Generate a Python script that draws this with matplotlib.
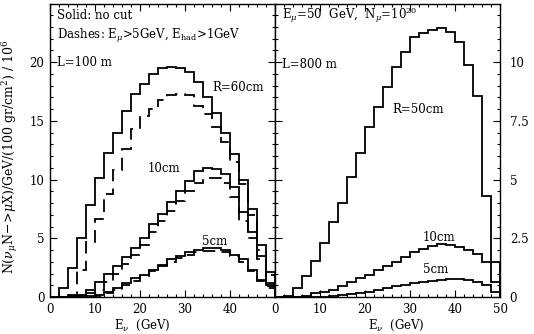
import matplotlib.pyplot as plt
import numpy as np
from matplotlib.ticker import MultipleLocator

plt.rcParams['font.family'] = ['DejaVu Serif']
plt.rcParams['mathtext.fontset'] = 'dejavuserif'

# bin edges, 2 GeV wide
edges = np.arange(0, 52, 2)

# L=100 m panel, solid = no cut, dashed = with cuts
l100_r60 = [0, 0.75, 2.5, 5.0, 7.8, 10.1, 12.3, 14.0, 15.8, 17.3, 18.1, 19.0, 19.5,
            19.6, 19.5, 19.2, 18.3, 17.0, 15.7, 14.0, 12.2, 10.0, 7.5, 4.4, 1.2]
l100_r60_cut = [0, 0, 0.2, 2.3, 4.7, 6.6, 8.8, 10.8, 12.6, 14.3, 15.4, 16.0, 16.8,
                17.2, 17.3, 17.2, 16.3, 15.6, 14.5, 13.2, 11.5, 9.6, 7.0, 4.0, 0.8]
l100_r10 = [0, 0, 0.05, 0.2, 0.6, 1.3, 2.0, 2.6, 3.4, 4.2, 5.0, 6.2, 7.1, 8.1, 9.0,
            9.9, 10.7, 11.0, 10.9, 10.5, 9.4, 7.2, 5.5, 3.5, 2.1]
l100_r10_cut = [0, 0, 0, 0.05, 0.3, 0.6, 1.3, 2.0, 2.8, 3.6, 4.4, 5.5, 6.5, 7.3,
                8.2, 9.0, 9.7, 10.1, 10.1, 9.7, 8.5, 6.5, 5.0, 3.2, 1.9]
l100_r5 = [0, 0, 0, 0.05, 0.1, 0.2, 0.4, 0.8, 1.2, 1.6, 1.9, 2.3, 2.7, 3.2, 3.5,
           3.8, 4.0, 4.15, 4.15, 4.0, 3.6, 3.2, 2.3, 1.45, 1.0]
l100_r5_cut = [0, 0, 0, 0, 0.02, 0.1, 0.3, 0.6, 1.0, 1.4, 1.8, 2.2, 2.6, 3.0, 3.3,
               3.6, 3.8, 3.9, 3.95, 3.8, 3.5, 3.0, 2.2, 1.4, 0.9]

# L=800 m panel
l800_r50 = [0, 0.06, 0.37, 0.9, 1.55, 2.3, 3.2, 4.0, 5.1, 6.14, 7.23, 8.09, 8.96,
            9.8, 10.44, 11.05, 11.26, 11.38, 11.44, 11.3, 10.87, 9.87, 8.56, 4.29, 0.65]
l800_r10 = [0, 0, 0, 0.05, 0.16, 0.23, 0.3, 0.48, 0.65, 0.8, 0.94, 1.15, 1.32, 1.5,
            1.72, 1.9, 2.04, 2.18, 2.26, 2.2, 2.12, 2.0, 1.84, 1.47, 1.47]
l800_r5 = [0, 0, 0, 0, 0, 0, 0.05, 0.08, 0.12, 0.17, 0.22, 0.3, 0.38, 0.45, 0.52,
           0.6, 0.65, 0.7, 0.72, 0.75, 0.75, 0.73, 0.65, 0.5, 0.23]

fig = plt.figure(figsize=(5.34, 3.34), dpi=100)
ax1 = fig.add_axes([50/534, 37/334, 225/534, 293/334])
ax2 = fig.add_axes([275/534, 37/334, 225/534, 293/334])

fs = 8.5
lw = 1.3

ax1.stairs(l100_r60, edges, color='black', lw=lw)
ax1.stairs(l100_r10, edges, color='black', lw=lw)
ax1.stairs(l100_r5, edges, color='black', lw=lw)
for v in (l100_r60_cut, l100_r10_cut, l100_r5_cut):
    ax1.stairs(v, edges, color='black', lw=lw, linestyle=(0, (7, 4)))

ax2.stairs(l800_r50, edges, color='black', lw=lw)
ax2.stairs(l800_r10, edges, color='black', lw=lw)
ax2.stairs(l800_r5, edges, color='black', lw=lw)

ax1.set_xlim(0, 50)
ax1.set_ylim(0, 24.95)
ax2.set_xlim(0, 50)
ax2.set_ylim(0, 12.475)

for ax in (ax1, ax2):
    ax.xaxis.set_major_locator(MultipleLocator(10))
    ax.xaxis.set_minor_locator(MultipleLocator(2))
    ax.tick_params(which='both', direction='in', top=True, right=True, left=True,
                   labelsize=fs, width=0.8, pad=4)
    ax.tick_params(which='major', length=5)
    ax.tick_params(which='minor', length=2.5)
    for s in ax.spines.values():
        s.set_linewidth(1.0)
    ax.set_xlabel(r'E$_\nu$  (GeV)', fontsize=fs)

ax1.xaxis.set_label_coords(0.41, -0.072)
ax2.xaxis.set_label_coords(0.54, -0.072)

ax1.yaxis.set_major_locator(MultipleLocator(5))
ax1.yaxis.set_minor_locator(MultipleLocator(1))
ax1.set_xticks([0, 10, 20, 30, 40])
ax2.yaxis.set_major_locator(MultipleLocator(2.5))
ax2.yaxis.set_minor_locator(MultipleLocator(0.5))
ax2.yaxis.set_major_formatter(plt.FuncFormatter(lambda v, p: '%g' % v))
ax2.tick_params(axis='y', labelleft=False, labelright=True, pad=7)

ax1.set_ylabel(r'N($\nu_\mu$N$-\!>\!\mu$X)/GeV/(100 gr/cm$^2$) / 10$^6$',
               fontsize=9)
ax1.yaxis.set_label_coords(-0.135, 0.48)

# annotations
ax1.text(1.5, 24.0, 'Solid: no cut', fontsize=fs, va='center')
ax1.text(1.5, 22.2, r'Dashes: E$_\mu$>5GeV, E$_{\rm had}$>1GeV', fontsize=fs, va='center')
ax1.text(1.5, 20.0, 'L=100 m', fontsize=fs, va='center')
ax1.text(36.0, 17.8, 'R=60cm', fontsize=fs, va='center')
ax1.text(21.8, 10.9, '10cm', fontsize=fs, va='center')
ax1.text(33.7, 4.7, '5cm', fontsize=fs, va='center')

ax2.text(1.5, 12.0, r'E$_\mu$=50  GeV,  N$_\mu$=10$^{20}$', fontsize=fs, va='center')
ax2.text(1.5, 9.9, 'L=800 m', fontsize=fs, va='center')
ax2.text(26.0, 8.0, 'R=50cm', fontsize=fs, va='center')
ax2.text(32.8, 2.55, '10cm', fontsize=fs, va='center')
ax2.text(32.8, 1.15, '5cm', fontsize=fs, va='center')

fig.savefig('out.png', dpi=100)
